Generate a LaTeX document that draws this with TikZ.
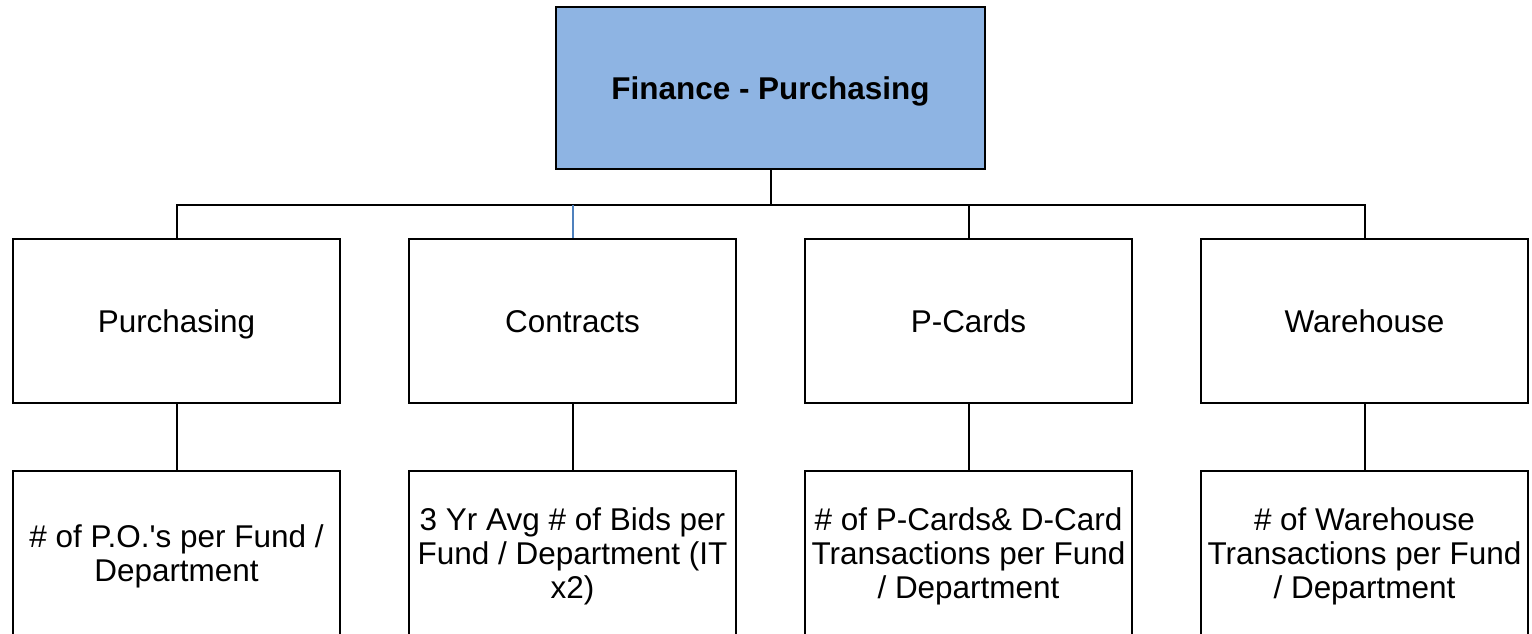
\documentclass[tikz,border=0pt]{standalone}
\usepackage{fontspec}
\setmainfont{Liberation Sans}
\newfontfamily\plainquote{Liberation Sans}
\definecolor{headblue}{HTML}{8EB4E3}
\definecolor{lineblue}{HTML}{4F81BD}

\begin{document}
\begin{tikzpicture}[x=0.75pt, y=-0.75pt]
\tikzset{ unit/.style={draw, line width=1.5pt, rectangle, align=center, inner sep=2pt,
                       minimum width=245pt, minimum height=123pt,
                       font=\fontsize{23.6}{25.5}\selectfont},
          oneline/.style={text height=19.5pt, text depth=2.3pt},
          measure/.style={unit, text depth=0pt},
          head/.style={unit, fill=headblue, minimum width=321.5pt, minimum height=121.5pt,
                       text height=19.5pt, text depth=2.5pt,
                       font=\fontsize{23.6}{25.5}\selectfont\bfseries},
          conn/.style={line width=1.5pt} }

\useasboundingbox (0,0) rectangle (1532,634);

%\draw [lightgray, dashed](0,0) grid [step=100] (1532,634);

\node [head] (FP) at (770.5,88) {Finance - Purchasing};

\node [unit, oneline] (PU) at (176.5,321) {Purchasing};
\node [unit, oneline] (CO) at (572.5,321) {Contracts};
\node [unit, oneline] (PC) at (968.5,321) {P-Cards};
\node [unit, oneline] (WH) at (1364.5,321) {Warehouse};

\node [measure] (PUm) at (176.5,553) {\# of P.O.{\plainquote'}s per Fund /\\Department};
\node [measure] (COm) at (572.5,553) {3 Yr Avg \# of Bids per\\Fund / Department (IT\\x2)};
\node [measure] (PCm) at (968.5,553) {\# of P-Cards\& D-Card\\Transactions per Fund\\/ Department};
\node [measure] (WHm) at (1364.5,553) {\# of Warehouse\\Transactions per Fund\\/ Department};

\coordinate (bus) at (770.5,205);

\draw [conn] (FP.south) -- (FP.south |- bus);
\draw [conn] (PU.north) |- (bus -| WH.north) -- (WH.north);
\draw [conn, lineblue] (CO.north) -- (CO.north |- bus);
\draw [conn] (PC.north) -- (PC.north |- bus);

\foreach \k in {PU,CO,PC,WH}
  \draw [conn] (\k.south) -- (\k m.north);

\end{tikzpicture}
\end{document}
